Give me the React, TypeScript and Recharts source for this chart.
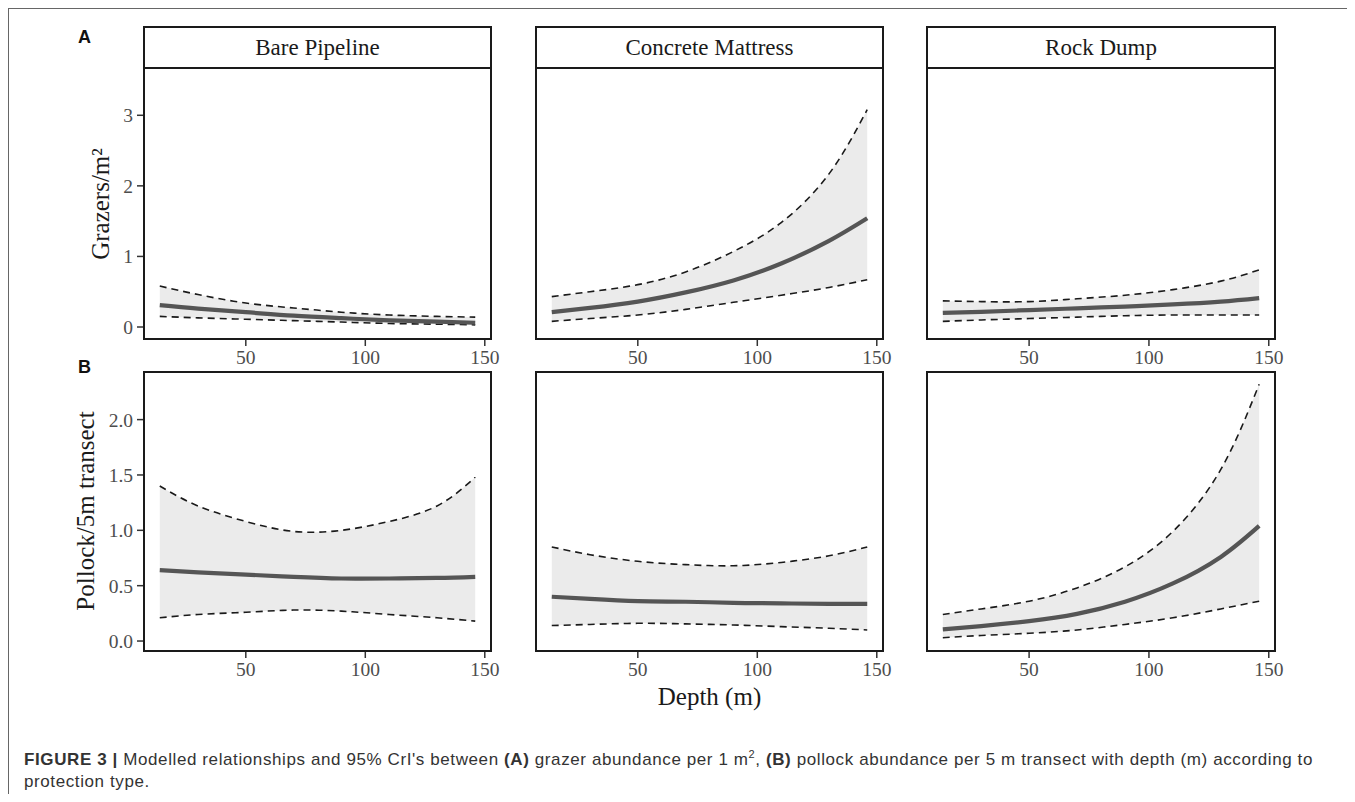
import React from 'react';
import { ComposedChart, Area, Line, XAxis, YAxis } from 'recharts';

// depth (m) at which the modelled curves were read
const depth = [14, 30, 50, 70, 90, 110, 130, 146];
const depthTicks = [50, 100, 150];

// (A) grazers per m2
const grazerBareMean = [0.31, 0.26, 0.21, 0.16, 0.125, 0.095, 0.075, 0.06];
const grazerBareUpper = [0.58, 0.46, 0.34, 0.27, 0.21, 0.17, 0.15, 0.14];
const grazerBareLower = [0.15, 0.13, 0.11, 0.09, 0.07, 0.05, 0.04, 0.03];

const grazerConcreteMean = [0.21, 0.27, 0.36, 0.49, 0.66, 0.9, 1.22, 1.54];
const grazerConcreteUpper = [0.43, 0.5, 0.6, 0.78, 1.07, 1.48, 2.17, 3.08];
const grazerConcreteLower = [0.08, 0.12, 0.17, 0.25, 0.35, 0.45, 0.56, 0.67];

const grazerRockMean = [0.2, 0.215, 0.24, 0.265, 0.29, 0.32, 0.36, 0.41];
const grazerRockUpper = [0.37, 0.36, 0.36, 0.4, 0.45, 0.53, 0.65, 0.81];
const grazerRockLower = [0.08, 0.1, 0.12, 0.14, 0.16, 0.17, 0.17, 0.17];

// (B) pollock per 5 m transect
const pollockBareMean = [0.64, 0.62, 0.6, 0.58, 0.565, 0.565, 0.57, 0.58];
const pollockBareUpper = [1.4, 1.22, 1.08, 0.99, 1.0, 1.08, 1.22, 1.48];
const pollockBareLower = [0.21, 0.24, 0.26, 0.28, 0.27, 0.24, 0.21, 0.18];

const pollockConcreteMean = [0.4, 0.38, 0.36, 0.355, 0.345, 0.34, 0.335, 0.335];
const pollockConcreteUpper = [0.85, 0.78, 0.72, 0.69, 0.68, 0.71, 0.77, 0.85];
const pollockConcreteLower = [0.14, 0.15, 0.16, 0.155, 0.145, 0.13, 0.115, 0.1];

const pollockRockMean = [0.105, 0.135, 0.18, 0.245, 0.355, 0.52, 0.76, 1.04];
const pollockRockUpper = [0.24, 0.29, 0.36, 0.48, 0.67, 0.99, 1.55, 2.32];
const pollockRockLower = [0.03, 0.05, 0.07, 0.1, 0.15, 0.21, 0.29, 0.36];

const protectionTypes = ['Bare Pipeline', 'Concrete Mattress', 'Rock Dump'];
const grazerTicks = [0, 1, 2, 3];
const pollockTicks = [0, 0.5, 1, 1.5, 2];

const makeRows = (mean: number[], lo: number[], hi: number[]) =>
  depth.map((d, i) => ({ depth: d, mean: mean[i], lo: lo[i], hi: hi[i], band: [lo[i], hi[i]] }));

const grazerRows = [
  makeRows(grazerBareMean, grazerBareLower, grazerBareUpper),
  makeRows(grazerConcreteMean, grazerConcreteLower, grazerConcreteUpper),
  makeRows(grazerRockMean, grazerRockLower, grazerRockUpper),
];
const pollockRows = [
  makeRows(pollockBareMean, pollockBareLower, pollockBareUpper),
  makeRows(pollockConcreteMean, pollockConcreteLower, pollockConcreteUpper),
  makeRows(pollockRockMean, pollockRockLower, pollockRockUpper),
];

// layout, in page pixels (body margin is 8)
const OFF = 8;
const COLS = [
  [144, 491],
  [536, 883],
  [927, 1275],
];
const ROW_A = { top: 68, bottom: 339, domain: [-0.17, 3.67] };
const ROW_B = { top: 372, bottom: 651, domain: [-0.09, 2.43] };
const STRIP_TOP = 27;
const M = 2;
const MR = 18;
const YW = 60;
const XH = 36;

const serif = '"Liberation Serif", "DejaVu Serif", serif';
const sans = '"Liberation Sans", Arial, sans-serif';
const tickStyle = { fill: '#4d4d4d', fontSize: 19.5, fontFamily: serif };
const curve = 'natural';

function Panel({ data, col, row, ticks, fmt }: any) {
  const [x0, x1] = COLS[col];
  const w = x1 - x0;
  const h = row.bottom - row.top;
  const yw = col === 0 ? YW : 0;
  return (
    <>
      <div style={{ position: 'absolute', left: x0 - OFF - yw - M, top: row.top - OFF - M }}>
        <ComposedChart
          width={w + yw + M + MR}
          height={h + M + XH}
          data={data}
          margin={{ top: M, right: MR, bottom: 0, left: M }}
        >
          <XAxis
            type="number"
            dataKey="depth"
            domain={[7.4, 152.6]}
            ticks={depthTicks}
            interval={0}
            allowDataOverflow
            height={XH}
            axisLine={false}
            tickSize={7}
            tickMargin={4}
            tickLine={{ stroke: '#333', strokeWidth: 1.5 }}
            tick={tickStyle}
          />
          <YAxis
            type="number"
            domain={row.domain}
            ticks={ticks}
            interval={0}
            allowDataOverflow
            hide={col !== 0}
            width={yw}
            axisLine={false}
            tickSize={7}
            tickMargin={4}
            tickFormatter={fmt}
            tickLine={{ stroke: '#333', strokeWidth: 1.5 }}
            tick={tickStyle}
          />
          <Area
            type={curve}
            dataKey="band"
            stroke="none"
            fill="#ebebeb"
            fillOpacity={1}
            isAnimationActive={false}
            activeDot={false}
          />
          <Line type={curve} dataKey="hi" stroke="#1a1a1a" strokeWidth={1.6} strokeDasharray="7 5" dot={false} activeDot={false} isAnimationActive={false} />
          <Line type={curve} dataKey="lo" stroke="#1a1a1a" strokeWidth={1.6} strokeDasharray="7 5" dot={false} activeDot={false} isAnimationActive={false} />
          <Line type={curve} dataKey="mean" stroke="#555555" strokeWidth={4.2} dot={false} activeDot={false} isAnimationActive={false} />
        </ComposedChart>
      </div>
      {/* panel border */}
      <div
        style={{
          position: 'absolute',
          left: x0 - OFF - 1,
          top: row.top - OFF - 1,
          width: w + 2,
          height: h + 2,
          border: '2px solid #1a1a1a',
          boxSizing: 'border-box',
          pointerEvents: 'none',
        }}
      />
    </>
  );
}

export default function App() {
  return (
    <div style={{ position: 'relative', width: 1339, height: 786, background: '#fff' }}>
      <style>{`body{margin:8px;overflow:hidden}`}</style>
      {/* outer figure frame */}
      <div
        style={{
          position: 'absolute',
          left: 0,
          top: 0,
          width: 1400,
          height: 820,
          borderTop: '1px solid #666',
          borderLeft: '1px solid #666',
        }}
      />

      {protectionTypes.map((name, c) => (
        <div
          key={name}
          style={{
            position: 'absolute',
            left: COLS[c][0] - OFF - 1,
            top: STRIP_TOP - OFF - 1,
            width: COLS[c][1] - COLS[c][0] + 2,
            height: ROW_A.top - STRIP_TOP + 2,
            border: '2px solid #1a1a1a',
            boxSizing: 'border-box',
            display: 'flex',
            alignItems: 'center',
            justifyContent: 'center',
            fontFamily: serif,
            fontSize: 23,
            color: '#1a1a1a',
            paddingTop: 1,
          }}
        >
          {name}
        </div>
      ))}

      {grazerRows.map((d, c) => (
        <Panel key={'a' + c} data={d} col={c} row={ROW_A} ticks={grazerTicks} fmt={(v: number) => String(v)} />
      ))}
      {pollockRows.map((d, c) => (
        <Panel key={'b' + c} data={d} col={c} row={ROW_B} ticks={pollockTicks} fmt={(v: number) => v.toFixed(1)} />
      ))}

      <svg
        width={1339}
        height={786}
        style={{ position: 'absolute', left: 0, top: 0, pointerEvents: 'none' }}
      >
        <text x={70} y={35} fontFamily={sans} fontWeight="bold" fontSize={18} fill="#111">
          A
        </text>
        <text x={70} y={365} fontFamily={sans} fontWeight="bold" fontSize={18} fill="#111">
          B
        </text>
        <text
          x={92}
          y={196}
          transform="rotate(-90 92 196)"
          textAnchor="middle"
          dominantBaseline="central"
          fontFamily={serif}
          fontSize={25}
          fill="#1a1a1a"
        >
          Grazers/m²
        </text>
        <text
          x={77}
          y={503}
          transform="rotate(-90 77 503)"
          textAnchor="middle"
          dominantBaseline="central"
          fontFamily={serif}
          fontSize={25}
          fill="#1a1a1a"
        >
          Pollock/5m transect
        </text>
        <text x={701.5} y={697} textAnchor="middle" fontFamily={serif} fontSize={25} fill="#1a1a1a">
          Depth (m)
        </text>
      </svg>

      <div
        style={{
          position: 'absolute',
          left: 16,
          top: 741,
          width: 1320,
          fontFamily: sans,
          fontSize: 17,
          letterSpacing: 0.6,
          lineHeight: '22px',
          color: '#333',
          whiteSpace: 'nowrap',
        }}
      >
        <b>FIGURE 3 |</b> Modelled relationships and 95% CrI's between <b>(A)</b> grazer abundance per 1 m
        <sup style={{ fontSize: 11, lineHeight: 0 }}>2</sup>, <b>(B)</b> pollock abundance per 5 m transect with depth
        (m) according to
        <br />
        protection type.
      </div>
    </div>
  );
}
